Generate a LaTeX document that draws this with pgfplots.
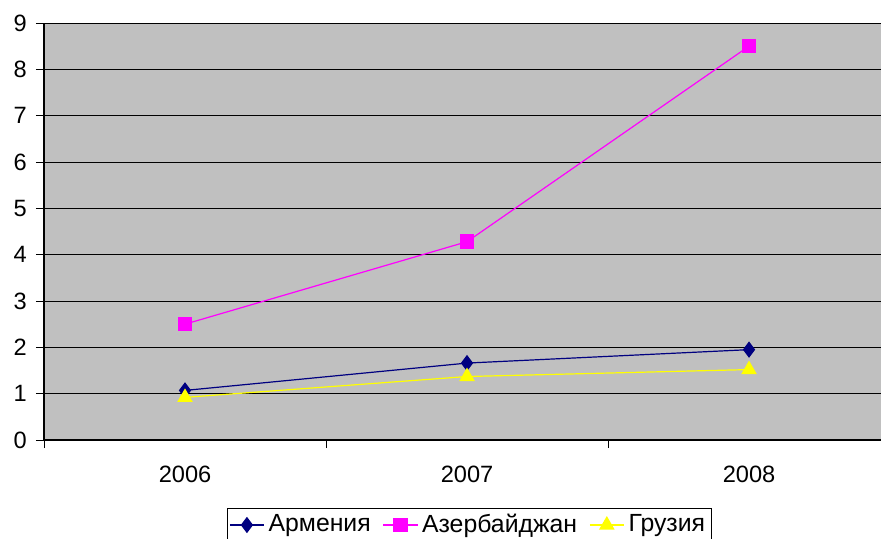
\documentclass[border=0pt]{standalone}
\usepackage{fontspec}
\setmainfont{Liberation Sans}
\usepackage{pgfplots}
\pgfplotsset{compat=1.18}
\usepackage{xcolor}
\definecolor{plotbg}{HTML}{C0C0C0}
\definecolor{arm}{HTML}{000080}
\definecolor{aze}{HTML}{FF00FF}
\definecolor{geo}{HTML}{FFFF00}

\begin{document}
\fontsize{11.8}{14}\selectfont
\begin{tikzpicture}
\begin{axis}[
  scale only axis,
  width=418.5pt, height=208.5pt,
  xmin=-0.5, xmax=2.468,
  ymin=0, ymax=9,
  axis x line=bottom, axis y line=left,
  axis line style={-, black, line width=0.6pt},
  axis background/.style={fill=plotbg},
  xtick={0,1,2},
  xticklabels={2006,2007,2008},
  major x tick style={draw=none},
  minor xtick={-0.5,0.5,1.5},
  minor tick length=4pt,
  ytick={0,1,...,9},
  major tick length=4pt,
  tick align=outside,
  tick style={black, line width=0.5pt},
  ymajorgrids,
  grid style={black, line width=0.5pt},
  /pgf/number format/assume math mode=true,
  ticklabel style={font=\fontsize{11.8}{14}\selectfont},
  xticklabel style={yshift=-5pt},
  yticklabel style={xshift=-0.5pt},
  legend columns=3,
  legend style={at={(0.508,0)}, anchor=center, yshift=-42.5pt,
    draw=black, fill=white, font=\fontsize{12.4}{14}\selectfont,
    inner sep=1pt, /tikz/every even column/.append style={column sep=4pt}},
  legend cell align=left,
  clip=false,
]
\addplot[color=arm, line width=0.6pt, mark=diamond*, mark size=3.6pt, mark options={fill=arm}]
  coordinates {(0,1.07) (1,1.66) (2,1.95)};
\addlegendentry{Армения}
\addplot[color=aze, line width=0.6pt, mark=square*, mark size=3.3pt, mark options={fill=aze}]
  coordinates {(0,2.50) (1,4.28) (2,8.50)};
\addlegendentry{Азербайджан}
\addplot[color=geo, line width=0.6pt, mark=triangle*, mark size=3.9pt, mark options={fill=geo}]
  coordinates {(0,0.92) (1,1.37) (2,1.52)};
\addlegendentry{Грузия}
\end{axis}
\pgfresetboundingbox
\path[use as bounding box] ([xshift=-22pt,yshift=-49.5pt]current axis.south west)
  rectangle ([yshift=11.5pt]current axis.north east);
\end{tikzpicture}
\end{document}
